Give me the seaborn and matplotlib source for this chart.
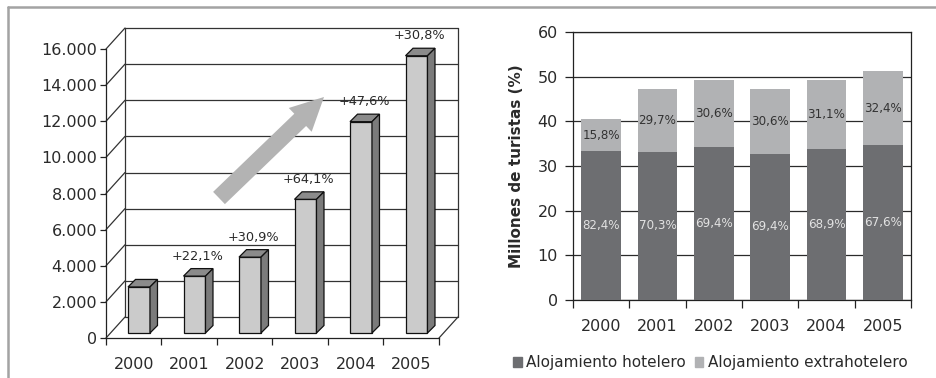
import matplotlib
matplotlib.use("Agg")
import matplotlib.pyplot as plt
import seaborn as sns
import pandas as pd
import numpy as np
from matplotlib import transforms
from matplotlib.lines import Line2D
from matplotlib.patches import Polygon, FancyArrow, Patch
from matplotlib.ticker import FuncFormatter

# ---- data -------------------------------------------------------------
years = ["2000", "2001", "2002", "2003", "2004", "2005"]

# left panel: yearly figures (thousands) and year-on-year growth labels
viajeros = [2550, 3150, 4200, 7400, 11700, 15350]
crecimiento = ["", "+22,1%", "+30,9%", "+64,1%", "+47,6%", "+30,8%"]
left_ticks = [0, 2000, 4000, 6000, 8000, 10000, 12000, 14000, 16000]

# right panel: total tourists (millions) and share by type of lodging (%)
total_turistas = [40.5, 47.2, 49.2, 47.2, 49.2, 51.2]
cuota_hotelero = [82.4, 70.3, 69.4, 69.4, 68.9, 67.6]
cuota_extrahotelero = [15.8, 29.7, 30.6, 30.6, 31.1, 32.4]
right_ticks = [0, 10, 20, 30, 40, 50, 60]

# ---- style ------------------------------------------------------------
sns.set_style("white")
plt.rcParams["font.family"] = ["DejaVu Sans"]
TXT = "#2a2a2a"
DARK = "#6d6e71"
LIGHT = "#b1b2b4"

W, H, DPI = 937, 378, 100
fig = plt.figure(figsize=(W / DPI, H / DPI), dpi=DPI)
px = transforms.IdentityTransform()

# ---- left panel: pseudo-3D columns -----------------------------------
axL = fig.add_axes([106 / W, (H - 338) / H, 333 / W, 289 / H])
df_left = pd.DataFrame({"anio": years, "viajeros": viajeros})
sns.barplot(data=df_left, x="anio", y="viajeros", ax=axL, color="#cbcbcb",
            saturation=1, width=0.396, edgecolor="#111111", linewidth=0.9,
            zorder=5)
axL.set_xlim(-0.5, 5.5)
axL.set_ylim(0, 16000)
axL.set_xlabel("")
axL.set_ylabel("")

# depth of the box (back wall) and of each column, in pixels
BX, BY = 19, 21
DEPTH = 7.5
bar_shift = transforms.ScaledTranslation(5.25 / DPI, 5 / DPI, fig.dpi_scale_trans)

def disp(x, y):
    return axL.transData.transform((x, y))

line_kw = dict(color="#333333", lw=0.9, transform=px, clip_on=False, zorder=1)
for v in left_ticks:
    a = disp(-0.5, v)
    b = disp(5.5, v)
    axL.add_line(Line2D([a[0] + BX, b[0] + BX], [a[1] + BY, b[1] + BY], **line_kw))
    axL.add_line(Line2D([a[0], a[0] + BX], [a[1], a[1] + BY], **line_kw))
for xe in (-0.5, 5.5):
    a = disp(xe, 0)
    b = disp(xe, 16000)
    axL.add_line(Line2D([a[0] + BX, b[0] + BX], [a[1] + BY, b[1] + BY], **line_kw))
a = disp(5.5, 0)
axL.add_line(Line2D([a[0], a[0] + BX], [a[1], a[1] + BY], **line_kw))

# growth arrow
arrow = FancyArrow(2.19, (H - 198) / DPI, 1.05, 1.01, width=0.17,
                   head_width=0.33, head_length=0.33, length_includes_head=True,
                   transform=fig.dpi_scale_trans, color="#b3b3b3", lw=0,
                   zorder=2, clip_on=False)
axL.add_patch(arrow)

bar_tr = axL.transData + bar_shift
for p, lab in zip(list(axL.patches)[:len(viajeros)], crecimiento):
    p.set_transform(bar_tr)
    p.set_clip_on(False)
    x0, w, h = p.get_x(), p.get_width(), p.get_height()
    ftl = bar_tr.transform((x0, h))
    ftr = bar_tr.transform((x0 + w, h))
    fbr = bar_tr.transform((x0 + w, 0))
    d = np.array([DEPTH, DEPTH])
    top = Polygon([ftl, ftr, ftr + d, ftl + d], closed=True, transform=px,
                  facecolor="#8b8b8b", edgecolor="#111111", lw=0.9,
                  clip_on=False, zorder=5)
    side = Polygon([ftr, fbr, fbr + d, ftr + d], closed=True, transform=px,
                   facecolor="#7b7b7b", edgecolor="#111111", lw=0.9,
                   clip_on=False, zorder=5)
    axL.add_patch(top)
    axL.add_patch(side)
    if lab:
        axL.annotate(lab, xy=(x0 + w / 2, h), xycoords=bar_tr,
                     xytext=(3, 20), textcoords="offset pixels",
                     ha="center", va="center", fontsize=9.3, color=TXT,
                     annotation_clip=False, zorder=6)

for s in ("top", "right"):
    axL.spines[s].set_visible(False)
for s in ("left", "bottom"):
    axL.spines[s].set_color("#222222")
    axL.spines[s].set_linewidth(0.9)

axL.set_yticks(left_ticks)
axL.yaxis.set_major_formatter(FuncFormatter(lambda v, _: f"{int(v):,}".replace(",", ".")))
axL.set_xticks(range(len(years)))
axL.set_xticklabels(years)
axL.set_xticks(np.arange(-0.5, len(years), 1.0), minor=True)
axL.tick_params(axis="y", left=True, length=4.3, width=0.9, pad=2,
                direction="out", labelsize=11.5, labelcolor=TXT, color="#222222")
axL.tick_params(axis="x", which="major", bottom=True, length=0, pad=14,
                labelsize=11.5, labelcolor=TXT)
axL.tick_params(axis="x", which="minor", bottom=True, length=5, width=0.9,
                direction="out", color="#222222")

# ---- right panel: stacked columns ------------------------------------
axR = fig.add_axes([573 / W, (H - 300) / H, 338 / W, 268 / H])
hotelero = [t * c / 100 for t, c in zip(total_turistas, cuota_hotelero)]
df_right = pd.DataFrame({"anio": years, "total": total_turistas, "hotelero": hotelero})
sns.barplot(data=df_right, x="anio", y="total", ax=axR, color=LIGHT,
            saturation=1, width=0.71, linewidth=0, zorder=3)
sns.barplot(data=df_right, x="anio", y="hotelero", ax=axR, color=DARK,
            saturation=1, width=0.71, linewidth=0, zorder=3)
axR.set_xlim(-0.5, 5.5)
axR.set_ylim(0, 60)
axR.set_yticks(right_ticks)
axR.set_axisbelow(True)
axR.yaxis.grid(True, color="#2b2b2b", lw=0.9)
axR.xaxis.grid(False)
for s in axR.spines.values():
    s.set_visible(True)
    s.set_color("#222222")
    s.set_linewidth(0.9)

for i, (t, hv, ch, ce) in enumerate(zip(total_turistas, hotelero,
                                        cuota_hotelero, cuota_extrahotelero)):
    axR.text(i, hv / 2, f"{ch:.1f}%".replace(".", ","), ha="center", va="center",
             fontsize=8.6, color="#e2e2e2", zorder=4)
    axR.text(i, hv + (t - hv) / 2, f"{ce:.1f}%".replace(".", ","), ha="center",
             va="center", fontsize=8.6, color="#333333", zorder=4)

axR.set_xticks(range(len(years)))
axR.set_xticklabels(years)
axR.set_xticks(np.arange(-0.5, len(years), 1.0), minor=True)
axR.tick_params(axis="y", left=True, length=5.8, width=0.9, pad=5,
                direction="out", labelsize=11.5, labelcolor=TXT, color="#222222")
axR.tick_params(axis="x", which="major", bottom=True, length=0, pad=14,
                labelsize=11.5, labelcolor=TXT)
axR.tick_params(axis="x", which="minor", bottom=True, length=5.8, width=0.9,
                direction="out", color="#222222")
axR.set_xlabel("")
axR.set_ylabel("Millones de turistas (%)", fontsize=11, fontweight="bold", color=TXT)
axR.yaxis.set_label_coords((524 - 573) / 338, 0.5)

fig.legend(handles=[Patch(color=DARK, label="Alojamiento hotelero"),
                    Patch(color=LIGHT, label="Alojamiento extrahotelero")],
           loc="center", bbox_to_anchor=(710.5 / W, 15 / H), ncol=2,
           frameon=False, fontsize=11, handlelength=0.55, handleheight=0.55,
           handletextpad=0.3, columnspacing=0.6, borderaxespad=0, borderpad=0,
           labelcolor=TXT)

# ---- outer frame -----------------------------------------------------
frame_kw = dict(transform=fig.transFigure, color="#a3a3a3", lw=1.8)
fig.add_artist(Line2D([8 / W, 1], [1 - 7 / H, 1 - 7 / H], **frame_kw))
fig.add_artist(Line2D([8 / W, 8 / W], [0, 1 - 7 / H], **frame_kw))

fig.savefig("out.png", dpi=DPI, facecolor="white")
